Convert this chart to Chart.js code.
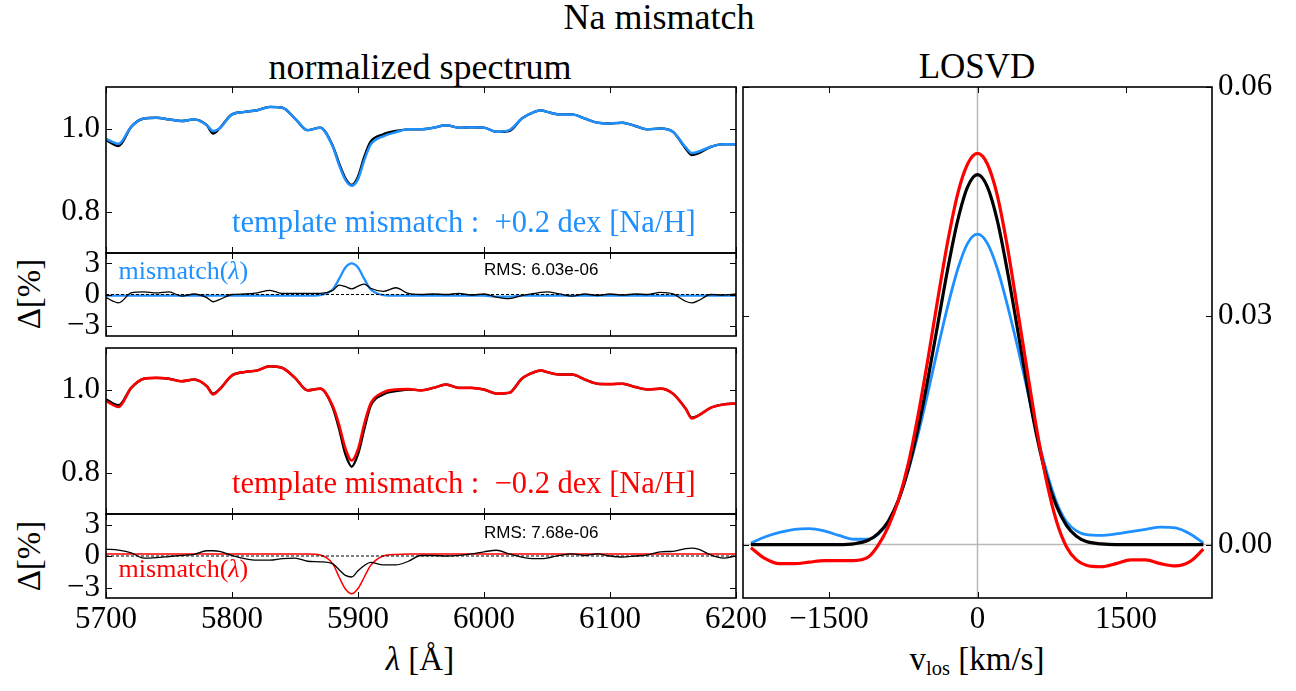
<!DOCTYPE html>
<html>
<head>
<meta charset="utf-8">
<title>Na mismatch</title>
<script src="https://cdn.jsdelivr.net/npm/chart.js@4/dist/chart.umd.min.js"></script>
<style>
  body { margin: 0; background: #fff; width: 1296px; height: 691px; position: relative; overflow: hidden; }
  canvas { position: absolute; }
  .lbl { position: absolute; white-space: nowrap; color: #000; line-height: 1; font-family: "Liberation Serif", "Times New Roman", serif; }
  .lbl sub { font-size: 62%; vertical-align: -0.25em; }
</style>
</head>
<body>
<div class="lbl" style="left:659px; top:-1px; font-size:36px; transform:translateX(-50%)">Na mismatch</div>
<div class="lbl" style="left:420px; top:49px; font-size:36px; transform:translateX(-50%)">normalized spectrum</div>
<div class="lbl" style="left:977px; top:49px; font-size:35px; transform:translateX(-50%)">LOSVD</div>
<div class="lbl" style="left:420px; top:643px; font-size:33px; transform:translateX(-50%)"><i>λ</i> [Å]</div>
<div class="lbl" style="left:977px; top:643px; font-size:33px; transform:translateX(-50%)">v<sub>los</sub> [km/s]</div>
<div class="lbl" style="left:29px; top:294px; font-size:33px; transform:translate(-50%,-50%) rotate(-90deg)">Δ[%]</div>
<div class="lbl" style="left:29px; top:556px; font-size:33px; transform:translate(-50%,-50%) rotate(-90deg)">Δ[%]</div>

<canvas id="specPlus" width="775" height="174" style="left:0; top:83px"></canvas>
<canvas id="resPlus" width="775" height="91" style="left:0; top:249px"></canvas>
<canvas id="specMinus" width="775" height="174" style="left:0; top:344px"></canvas>
<canvas id="resMinus" width="775" height="181" style="left:0; top:510px"></canvas>
<canvas id="losvd" width="557" height="631" style="left:739px; top:60px"></canvas>

<script>
// wavelength grid [Å]
const wave = [5700, 5710, 5720, 5730, 5740, 5750, 5760, 5770, 5780, 5785, 5790, 5800, 5810, 5820, 5830, 5840, 5850, 5860, 5870, 5880,
  5885, 5890, 5895, 5900, 5905, 5910, 5920, 5930, 5940, 5950, 5960, 5970, 5980, 5990, 6000, 6010, 6020, 6030, 6040, 6045,
  6050, 6060, 6070, 6080, 6090, 6100, 6110, 6120, 6130, 6140, 6150, 6160, 6165, 6170, 6180, 6190, 6200];

// +0.2 dex case: spectrum, fit with mismatched template, residual and mismatch curve
const specDataPlus = [0.972, 0.958, 1.004, 1.024, 1.026, 1.022, 1.018, 1.022, 1.008, 0.988, 1.000, 1.034, 1.040, 1.044, 1.052, 1.050, 1.024, 0.996, 1.002, 0.958,
  0.916, 0.880, 0.864, 0.884, 0.932, 0.968, 0.986, 0.994, 0.998, 0.998, 1.002, 1.008, 1.002, 1.003, 1.002, 0.992, 0.994, 1.024, 1.040, 1.044,
  1.040, 1.034, 1.034, 1.024, 1.014, 1.012, 1.014, 1.006, 0.998, 1.000, 0.992, 0.952, 0.936, 0.940, 0.956, 0.962, 0.962];
const specFitPlus = [0.975, 0.963, 1.004, 1.024, 1.026, 1.022, 1.018, 1.022, 1.008, 0.994, 1.000, 1.034, 1.040, 1.044, 1.052, 1.050, 1.024, 0.996, 1.002, 0.956,
  0.912, 0.876, 0.862, 0.878, 0.924, 0.961, 0.981, 0.991, 0.998, 0.998, 1.002, 1.008, 1.002, 1.003, 1.002, 0.992, 0.996, 1.024, 1.040, 1.044,
  1.040, 1.034, 1.034, 1.024, 1.014, 1.012, 1.014, 1.006, 0.998, 1.000, 0.992, 0.955, 0.941, 0.944, 0.956, 0.962, 0.962];
const residPlus = [-0.3, -0.8, 0.15, 0.25, 0.15, 0.25, -0.15, 0.05, -0.3, -0.7, -0.5, 0.0, 0.05, 0.15, 0.4, 0.1, 0.1, 0.1, 0.1, 0.4,
  0.9, 0.75, 0.55, 0.8, 1.0, 0.6, 0.3, 0.65, 0.1, 0.0, 0.05, 0.0, 0.1, -0.05, 0.05, -0.25, -0.4, -0.1, 0.1, 0.2,
  0.25, 0.05, -0.15, 0.05, -0.1, 0.05, -0.05, 0.05, 0.0, 0.2, 0.05, -0.65, -0.8, -0.6, 0.0, -0.05, 0.05];
const mismatchPlus = [-0.1, -0.1, -0.1, -0.1, -0.1, -0.1, -0.1, -0.1, -0.1, -0.1, -0.1, -0.1, -0.1, -0.1, -0.1, -0.1, -0.1, -0.1, -0.05, 0.5,
  1.5, 2.6, 3.0, 2.6, 1.5, 0.5, -0.05, -0.1, -0.1, -0.1, -0.1, -0.1, -0.1, -0.1, -0.1, -0.2, -0.2, -0.1, -0.1, -0.1,
  -0.1, -0.1, -0.1, -0.1, -0.1, -0.1, -0.1, -0.1, -0.1, -0.1, -0.1, -0.1, -0.1, -0.1, -0.1, -0.1, -0.1];

// -0.2 dex case
const specDataMinus = [0.976, 0.962, 1.004, 1.026, 1.028, 1.026, 1.020, 1.024, 1.008, 0.990, 1.000, 1.034, 1.042, 1.046, 1.056, 1.052, 1.028, 0.998, 1.002, 0.956,
  0.905, 0.844, 0.814, 0.844, 0.905, 0.960, 0.988, 0.996, 1.000, 0.998, 1.004, 1.012, 1.004, 1.004, 1.000, 0.990, 0.992, 1.026, 1.042, 1.046,
  1.042, 1.036, 1.036, 1.024, 1.014, 1.013, 1.014, 1.006, 1.000, 1.002, 0.990, 0.954, 0.932, 0.937, 0.956, 0.964, 0.966];
const specFitMinus = [0.972, 0.958, 1.004, 1.026, 1.028, 1.026, 1.020, 1.024, 1.008, 0.988, 1.000, 1.034, 1.042, 1.046, 1.056, 1.052, 1.028, 0.998, 1.002, 0.960,
  0.915, 0.858, 0.829, 0.856, 0.917, 0.966, 0.993, 1.000, 1.001, 0.998, 1.004, 1.012, 1.004, 1.004, 1.000, 0.990, 0.992, 1.026, 1.042, 1.046,
  1.042, 1.036, 1.036, 1.024, 1.014, 1.013, 1.014, 1.006, 1.000, 1.002, 0.990, 0.954, 0.930, 0.937, 0.956, 0.964, 0.966];
const residMinus = [0.65, 0.55, 0.3, -0.2, -0.15, -0.05, 0.05, 0.15, 0.5, 0.5, 0.45, 0.05, -0.25, -0.4, -0.4, -0.25, -0.2, -0.5, -0.55, -0.75,
  -1.3, -1.85, -2.0, -1.4, -0.9, -0.6, -0.85, -0.85, -0.5, 0.05, 0.05, 0.0, 0.05, 0.2, 0.4, 0.55, 0.2, -0.1, -0.25, -0.25,
  -0.2, 0.05, 0.2, 0.05, 0.2, 0.0, -0.1, 0.0, 0.1, 0.4, 0.45, 0.7, 0.75, 0.65, 0.1, -0.2, 0.0];
const mismatchMinus = [0.2, 0.2, 0.2, 0.2, 0.2, 0.2, 0.2, 0.2, 0.2, 0.2, 0.2, 0.2, 0.2, 0.2, 0.2, 0.2, 0.2, 0.2, 0.1, -0.75,
  -2.0, -3.15, -3.6, -3.1, -2.0, -0.9, 0.0, 0.15, 0.2, 0.2, 0.2, 0.2, 0.2, 0.2, 0.2, 0.2, 0.2, 0.2, 0.2, 0.2,
  0.2, 0.2, 0.2, 0.2, 0.2, 0.2, 0.2, 0.2, 0.2, 0.2, 0.2, 0.2, 0.2, 0.2, 0.2, 0.2, 0.2];

// line-of-sight velocity distributions [km/s]
const vel = [-2290, -2150, -2000, -1850, -1700, -1550, -1400, -1250, -1100, -1000, -900, -800, -700, -600, -500, -400, -300, -200, -100, 0,
  100, 200, 300, 400, 500, 600, 700, 800, 900, 1000, 1100, 1250, 1400, 1550, 1700, 1850, 2000, 2150, 2283];
const losvdTrue = [0, 0, 0, 0, 0, 0, 0, 0.0001, 0.0006, 0.0015, 0.0031, 0.0058, 0.0099, 0.0153, 0.0218, 0.0290, 0.0362, 0.0425, 0.0469, 0.0485,
  0.0469, 0.0425, 0.0360, 0.0286, 0.0210, 0.0142, 0.0088, 0.0050, 0.0025, 0.0011, 0.0004, 0.0001, 0, 0, 0, 0, 0, 0, 0];
const losvdPlus = [0.0002, 0.0010, 0.0016, 0.0020, 0.0021, 0.0018, 0.0012, 0.0007, 0.0007, 0.0014, 0.0030, 0.0058, 0.0097, 0.0145, 0.0200, 0.0258, 0.0313, 0.0361, 0.0395, 0.0407,
  0.0395, 0.0362, 0.0315, 0.0262, 0.0205, 0.0145, 0.0095, 0.0055, 0.0030, 0.0018, 0.0013, 0.0012, 0.0014, 0.0017, 0.0020, 0.0023, 0.0022, 0.0014, 0.0002];
const losvdMinus = [-0.0004, -0.0018, -0.0025, -0.0025, -0.0023, -0.0021, -0.0021, -0.0021, -0.0016, 0.0000, 0.0024, 0.0058, 0.0106, 0.0170, 0.0244, 0.0323, 0.0398, 0.0460, 0.0499, 0.0513,
  0.0499, 0.0458, 0.0392, 0.0312, 0.0230, 0.0150, 0.0082, 0.0030, -0.0003, -0.0020, -0.0027, -0.0029, -0.0025, -0.0020, -0.0020, -0.0025, -0.0028, -0.0022, -0.0006];

const waveTicks = [5700, 5800, 5900, 6000, 6100, 6200];
const specTicks = [0.8, 1.0];
const residTicks = [-3, 0, 3];
const velTicks = [-1500, 0, 1500];
const losvdTicks = [0, 0.03, 0.06];
const zeroWave = [5700, 6200];
const zeroVel = [-2370, 2370];
const zeroLosvd = [-0.007, 0.06];

const rmsPlus = 'RMS: 6.03e-06';
const rmsMinus = 'RMS: 7.68e-06';

const BLUE = '#1e90ff';
const RED = '#ff0000';
const SERIF = '"Liberation Serif", "Times New Roman", serif';
const SANS = '"Liberation Sans", Arial, sans-serif';

Chart.defaults.color = '#000';
Chart.defaults.font.family = SERIF;

const pts = (xs, ys) => xs.map((x, i) => ({ x, y: ys[i] }));
const minus = v => (v < 0 ? '\u2212' + Math.abs(v) : String(v));

function line(xs, ys, color, width, extra) {
  return Object.assign({
    data: pts(xs, ys), borderColor: color, borderWidth: width,
    pointRadius: 0, fill: false, cubicInterpolationMode: 'monotone'
  }, extra || {});
}

// fixed axis size, and no extra room for labels hanging past the ends
function fixSize(s, w, h) {
  if (w !== null) s.width = w;
  if (h !== null) s.height = h;
  s.paddingTop = s.paddingBottom = s.paddingLeft = s.paddingRight = 0;
}

// frame with inward ticks on all four sides, plus text notes placed in data coordinates
function frame(notes) {
  return {
    id: 'frame',
    afterDraw(chart) {
      const { ctx, chartArea: a, scales } = chart;
      ctx.save();
      ctx.strokeStyle = '#000';
      ctx.lineWidth = 1;
      ctx.beginPath();
      scales.x.ticks.forEach(t => {
        const px = Math.round(scales.x.getPixelForValue(t.value)) + 0.5;
        ctx.moveTo(px, a.top); ctx.lineTo(px, a.top + 6);
        ctx.moveTo(px, a.bottom); ctx.lineTo(px, a.bottom - 6);
      });
      scales.y.ticks.forEach(t => {
        const py = Math.round(scales.y.getPixelForValue(t.value)) + 0.5;
        ctx.moveTo(a.left, py); ctx.lineTo(a.left + 6, py);
        ctx.moveTo(a.right, py); ctx.lineTo(a.right - 6, py);
      });
      ctx.stroke();
      ctx.lineWidth = 1.6;
      ctx.strokeRect(a.left, a.top, a.right - a.left, a.bottom - a.top);

      (notes || []).forEach(n => {
        let x = scales.x.getPixelForValue(n.x);
        const y = scales.y.getPixelForValue(n.y);
        ctx.fillStyle = n.color;
        ctx.textAlign = 'left';
        ctx.textBaseline = n.baseline || 'alphabetic';
        n.runs.forEach(([txt, font]) => {
          ctx.font = font;
          ctx.fillText(txt, x, y);
          x += ctx.measureText(txt).width;
        });
      });
      ctx.restore();
    }
  };
}

function waveAxis(showLabels) {
  return {
    type: 'linear', min: 5700, max: 6200,
    afterBuildTicks: s => { s.ticks = waveTicks.map(value => ({ value })); },
    afterFit: s => fixSize(s, null, showLabels ? 93 : 0),
    grid: { display: false, drawTicks: false },
    border: { display: false },
    ticks: { display: showLabels, autoSkip: false, font: { family: SERIF, size: 31 }, padding: 3, maxRotation: 0, callback: v => String(v) }
  };
}

function leftAxis(min, max, ticks, fmt) {
  return {
    type: 'linear', min, max,
    afterBuildTicks: s => { s.ticks = ticks.map(value => ({ value })); },
    afterFit: s => fixSize(s, 106, null),
    grid: { display: false, drawTicks: false },
    border: { display: false },
    ticks: { autoSkip: false, font: { family: SERIF, size: 31 }, padding: 6, callback: fmt }
  };
}

function panel(id, datasets, yAxis, showX, notes) {
  return new Chart(document.getElementById(id), {
    type: 'line',
    data: { datasets },
    options: {
      responsive: false, animation: false, events: [],
      layout: { autoPadding: false, padding: { left: 0, right: 39, top: 4, bottom: showX ? 0 : 4 } },
      plugins: { legend: { display: false }, tooltip: { enabled: false } },
      scales: { x: waveAxis(showX), y: yAxis }
    },
    plugins: [frame(notes)]
  });
}

const specFmt = v => v.toFixed(1);
const noteFont = '30.5px ' + SERIF;
const smallFont = '26px ' + SERIF;
const smallItalic = 'italic 26px ' + SERIF;
const rmsFont = '17px ' + SANS;

// top spectrum: data (black) and fit with +0.2 dex template (blue)
panel('specPlus', [
  line(wave, specFitPlus, BLUE, 2.5),
  line(wave, specDataPlus, '#000', 2.4)
], leftAxis(0.7, 1.1, specTicks, specFmt), false, [
  { x: 5800, y: 0.75, color: BLUE, runs: [['template mismatch :  +0.2 dex [Na/H]', noteFont]] }
]);

panel('resPlus', [
  line(zeroWave, [0, 0], '#000', 1.2, { borderDash: [3, 2], cubicInterpolationMode: 'default' }),
  line(wave, residPlus, '#000', 1.3),
  line(wave, mismatchPlus, BLUE, 2.3)
], leftAxis(-4, 4, residTicks, minus), false, [
  { x: 5710, y: 2.2, color: BLUE, baseline: 'middle', runs: [['mismatch(', smallFont], ['λ', smallItalic], [')', smallFont]] },
  { x: 6000, y: 2.35, color: '#000', baseline: 'middle', runs: [[rmsPlus, rmsFont]] }
]);

panel('specMinus', [
  line(wave, specFitMinus, RED, 2.6),
  line(wave, specDataMinus, '#000', 2.4)
], leftAxis(0.7, 1.1, specTicks, specFmt), false, [
  { x: 5800, y: 0.75, color: RED, runs: [['template mismatch :  \u22120.2 dex [Na/H]', noteFont]] }
]);

panel('resMinus', [
  line(zeroWave, [0, 0], '#000', 1.2, { borderDash: [3, 2], cubicInterpolationMode: 'default' }),
  line(wave, residMinus, '#000', 1.3),
  line(wave, mismatchMinus, RED, 1.5)
], leftAxis(-4, 4, residTicks, minus), true, [
  { x: 5710, y: -1.35, color: RED, baseline: 'middle', runs: [['mismatch(', smallFont], ['λ', smallItalic], [')', smallFont]] },
  { x: 6000, y: 2.2, color: '#000', baseline: 'middle', runs: [[rmsMinus, rmsFont]] }
]);

// LOSVD panel: true (black), recovered with +0.2 dex (blue) and -0.2 dex (red) templates
new Chart(document.getElementById('losvd'), {
  type: 'line',
  data: {
    datasets: [
      line(vel, losvdMinus, RED, 3.2),
      line(vel, losvdTrue, '#000', 3.2),
      line(vel, losvdPlus, BLUE, 2.8),
      line(zeroVel, [0, 0], '#b8b8b8', 1.5, { cubicInterpolationMode: 'default' }),
      line([0, 0], zeroLosvd, '#b8b8b8', 1.5, { cubicInterpolationMode: 'default' })
    ]
  },
  options: {
    responsive: false, animation: false, events: [],
    layout: { autoPadding: false, padding: { left: 4, right: 0, top: 27, bottom: 0 } },
    plugins: { legend: { display: false }, tooltip: { enabled: false } },
    scales: {
      x: {
        type: 'linear', min: -2370, max: 2370,
        afterBuildTicks: s => { s.ticks = velTicks.map(value => ({ value })); },
        afterFit: s => fixSize(s, null, 93),
        grid: { display: false, drawTicks: false },
        border: { display: false },
        ticks: { autoSkip: false, font: { family: SERIF, size: 31 }, padding: 3, maxRotation: 0, callback: minus }
      },
      y: {
        type: 'linear', position: 'right', min: -0.007, max: 0.06,
        afterBuildTicks: s => { s.ticks = losvdTicks.map(value => ({ value })); },
        afterFit: s => fixSize(s, 84, null),
        grid: { display: false, drawTicks: false },
        border: { display: false },
        ticks: { autoSkip: false, font: { family: SERIF, size: 31 }, padding: 6, callback: v => v.toFixed(2) }
      }
    }
  },
  plugins: [frame([])]
});
</script>
</body>
</html>
